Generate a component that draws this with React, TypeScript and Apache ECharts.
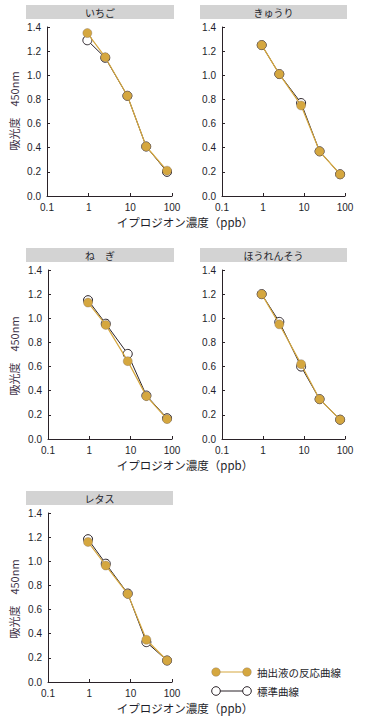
import React, { useEffect, useRef } from "react";
import * as echarts from "echarts";

const panelTitles = ["いちご", "きゅうり", "ね　ぎ", "ほうれんそう", "レタス"];
const concentrations = [0.93, 2.5, 8.5, 24, 76];
const extractValues = [
  [1.35, 1.15, 0.83, 0.41, 0.21],
  [1.25, 1.01, 0.75, 0.37, 0.18],
  [1.13, 0.945, 0.645, 0.355, 0.165],
  [1.2, 0.95, 0.62, 0.33, 0.16],
  [1.16, 0.965, 0.73, 0.35, 0.178],
];
const standardValues = [
  [1.29, 1.145, 0.83, 0.41, 0.2],
  [1.25, 1.01, 0.77, 0.37, 0.18],
  [1.15, 0.955, 0.705, 0.36, 0.172],
  [1.2, 0.97, 0.6, 0.33, 0.16],
  [1.183, 0.98, 0.733, 0.33, 0.178],
];
const xTicks = [0.1, 1, 10, 100];
const yTickFmt = (v: number) => v.toFixed(1);
const legendNames = ["抽出液の反応曲線", "標準曲線"];
const xTitle = "イプロジオン濃度（ppb）";
const yTitle = "吸光度　450nm";

const GOLD = "#D5A73F";
const DARK = "#2a2228";
const TEXT = "#1e1e2a";
const FONT = "'Liberation Sans', Arial, 'Noto Sans CJK JP', sans-serif";
const JFONT = "'Noto Sans CJK JP', 'Liberation Sans', sans-serif";

const grids = [
  { left: 47, top: 27, width: 125, height: 169 },
  { left: 222, top: 27, width: 123, height: 169 },
  { left: 48, top: 270, width: 124, height: 169 },
  { left: 222, top: 270, width: 123, height: 169 },
  { left: 48, top: 513, width: 124, height: 169 },
];
const headers = [
  { x: 26, y: 5, w: 148 },
  { x: 200, y: 5, w: 147 },
  { x: 26, y: 248, w: 148 },
  { x: 200, y: 248, w: 147 },
  { x: 26, y: 491, w: 147 },
];

export default function App() {
  const ref = useRef<HTMLDivElement>(null);
  useEffect(() => {
    if (!ref.current) return;
    const chart = echarts.init(ref.current, undefined, { renderer: "svg" });
    const xAxis: any[] = [];
    const yAxis: any[] = [];
    const series: any[] = [];
    grids.forEach((g, i) => {
      xAxis.push({
        type: "log",
        gridIndex: i,
        logBase: 10,
        min: xTicks[0],
        max: xTicks[xTicks.length - 1],
        axisLine: { lineStyle: { color: DARK, width: 1 } },
        axisTick: { inside: true, length: 3, lineStyle: { color: DARK } },
        minorTick: { show: false },
        splitLine: { show: false },
        axisLabel: {
          color: TEXT,
          fontSize: 10,
          fontFamily: FONT,
          margin: 6,
          formatter: (v: number) => String(+v.toPrecision(3)),
        },
      });
      yAxis.push({
        type: "value",
        gridIndex: i,
        min: 0,
        max: 1.4,
        interval: 0.2,
        axisLine: { show: true, lineStyle: { color: DARK, width: 1 } },
        axisTick: { show: true, inside: true, length: 3, lineStyle: { color: DARK } },
        splitLine: { show: false },
        axisLabel: { color: TEXT, fontSize: 10, fontFamily: FONT, margin: 6, formatter: yTickFmt },
      });
      series.push({
        type: "line",
        name: legendNames[1],
        xAxisIndex: i,
        yAxisIndex: i,
        data: concentrations.map((c, k) => [c, standardValues[i][k]]),
        symbol: "circle",
        symbolSize: 9,
        lineStyle: { color: DARK, width: 1 },
        itemStyle: { color: "#ffffff", borderColor: DARK, borderWidth: 1 },
        z: 2,
      });
      series.push({
        type: "line",
        name: legendNames[0],
        xAxisIndex: i,
        yAxisIndex: i,
        data: concentrations.map((c, k) => [c, extractValues[i][k]]),
        symbol: "circle",
        symbolSize: 9,
        lineStyle: { color: GOLD, width: 1.2 },
        itemStyle: { color: GOLD, borderColor: "rgba(110,95,90,0.55)", borderWidth: 0.6 },
        z: 3,
      });
    });

    const graphic: any[] = [];
    headers.forEach((h, i) => {
      graphic.push({
        type: "rect",
        shape: { x: h.x, y: h.y, width: h.w, height: 14 },
        style: { fill: "#D3D3D3" },
      });
      graphic.push({
        type: "text",
        x: h.x + h.w / 2,
        y: h.y + 7,
        style: {
          text: panelTitles[i],
          fill: TEXT,
          font: `10px ${JFONT}`,
          align: "center",
          verticalAlign: "middle",
        },
      });
    });
    [222, 465, 708].forEach((y) => {
      graphic.push({
        type: "text",
        x: 185,
        y,
        style: { text: xTitle, fill: TEXT, font: `11.5px ${JFONT}`, align: "center", verticalAlign: "middle" },
      });
    });
    [111, 356, 599].forEach((y) => {
      graphic.push({
        type: "text",
        x: 14,
        y,
        rotation: Math.PI / 2,
        style: { text: yTitle, fill: "#3f3548", font: `11px ${JFONT}`, align: "center", verticalAlign: "middle" },
      });
    });
    // legend
    const legendRows = [
      { y: 672, line: GOLD, fill: GOLD, stroke: "rgba(110,95,90,0.5)" },
      { y: 691, line: DARK, fill: "#ffffff", stroke: DARK },
    ];
    legendRows.forEach((r, i) => {
      graphic.push({
        type: "line",
        shape: { x1: 216, y1: r.y, x2: 247, y2: r.y },
        style: { stroke: r.line, lineWidth: 1 },
      });
      [216, 247].forEach((cx) => {
        graphic.push({
          type: "circle",
          shape: { cx, cy: r.y, r: 4.3 },
          style: { fill: r.fill, stroke: r.stroke, lineWidth: i === 0 ? 0.6 : 1 },
        });
      });
      graphic.push({
        type: "text",
        x: 257,
        y: r.y,
        style: { text: legendNames[i], fill: TEXT, font: `10.5px ${JFONT}`, verticalAlign: "middle" },
      });
    });

    chart.setOption({
      animation: false,
      backgroundColor: "#ffffff",
      grid: grids.map((g) => ({ ...g, containLabel: false })),
      xAxis,
      yAxis,
      series,
      graphic,
    });
    return () => chart.dispose();
  }, []);
  return (
    <div
      ref={ref}
      style={{ position: "absolute", left: 0, top: 0, width: 368, height: 720 }}
    />
  );
}
